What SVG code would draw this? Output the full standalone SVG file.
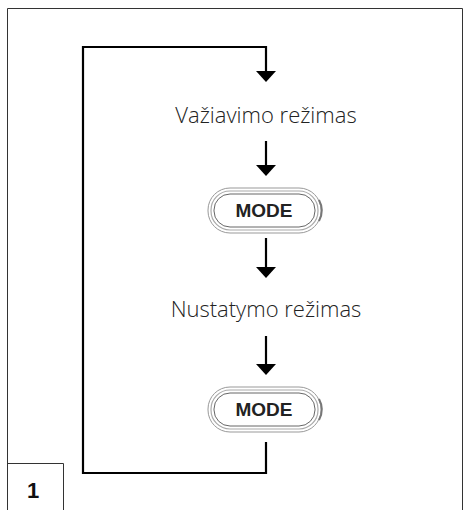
<svg xmlns="http://www.w3.org/2000/svg" width="463" height="510" viewBox="0 0 463 510">
<style>
.frame{fill:none;stroke:#333;stroke-width:1}
.conn{fill:none;stroke:#000;stroke-width:2.2}
.lbl{font-family:"Open Sans","Noto Sans",sans-serif;font-size:22px;font-weight:300;fill:#222;text-anchor:middle}
.btxt{font-family:"Liberation Sans",Arial,sans-serif;font-size:19px;font-weight:bold;fill:#222;text-anchor:middle}
.num{font-family:"Liberation Sans",Arial,sans-serif;font-size:22px;font-weight:900;fill:#111;text-anchor:middle}
</style>
<defs>
<g id="btn">
<rect x="-56" y="-22" width="113" height="45" rx="22" fill="#fff" stroke="#999" stroke-width="1"/>
<rect x="-53" y="-19" width="107" height="39" rx="19" fill="none" stroke="#aaa" stroke-width="1.2"/>
<rect x="-50" y="-16" width="101" height="33" rx="16" fill="#fff" stroke="#666" stroke-width="1"/>
<path d="M55,-10 A22,22 0 0 1 55,11" fill="none" stroke="#777" stroke-width="2"/>
</g>
</defs>
<rect width="463" height="510" fill="#fff"/>
<g id="frame">
<path class="frame" d="M7.5,510 V8.5 H462.5 V510"/>
<path class="frame" d="M7.5,463.5 H63.5 V510"/>
<text class="num" x="33" y="498">1</text>
</g>
<g id="connectors">
<path class="conn" d="M266,442 V473 H83 V47 H266 V72"/>
<path d="M256,71 L276,71 L266,82 z" fill="#000"/>
<path class="conn" d="M266,141 V166"/>
<path d="M256,165 L276,165 L266,176 z" fill="#000"/>
<path class="conn" d="M266,238 V268"/>
<path d="M256,267 L276,267 L266,278 z" fill="#000"/>
<path class="conn" d="M266,336 V365"/>
<path d="M256,364 L276,364 L266,375 z" fill="#000"/>
</g>
<g id="node-driving">
<text class="lbl" x="266" y="123">Važiavimo režimas</text>
</g>
<g id="node-mode1">
<use href="#btn" x="264" y="210"/>
<text class="btxt" x="264" y="217">MODE</text>
</g>
<g id="node-setting">
<text class="lbl" x="266" y="317">Nustatymo režimas</text>
</g>
<g id="node-mode2">
<use href="#btn" x="264" y="409"/>
<text class="btxt" x="264" y="416">MODE</text>
</g>
</svg>
